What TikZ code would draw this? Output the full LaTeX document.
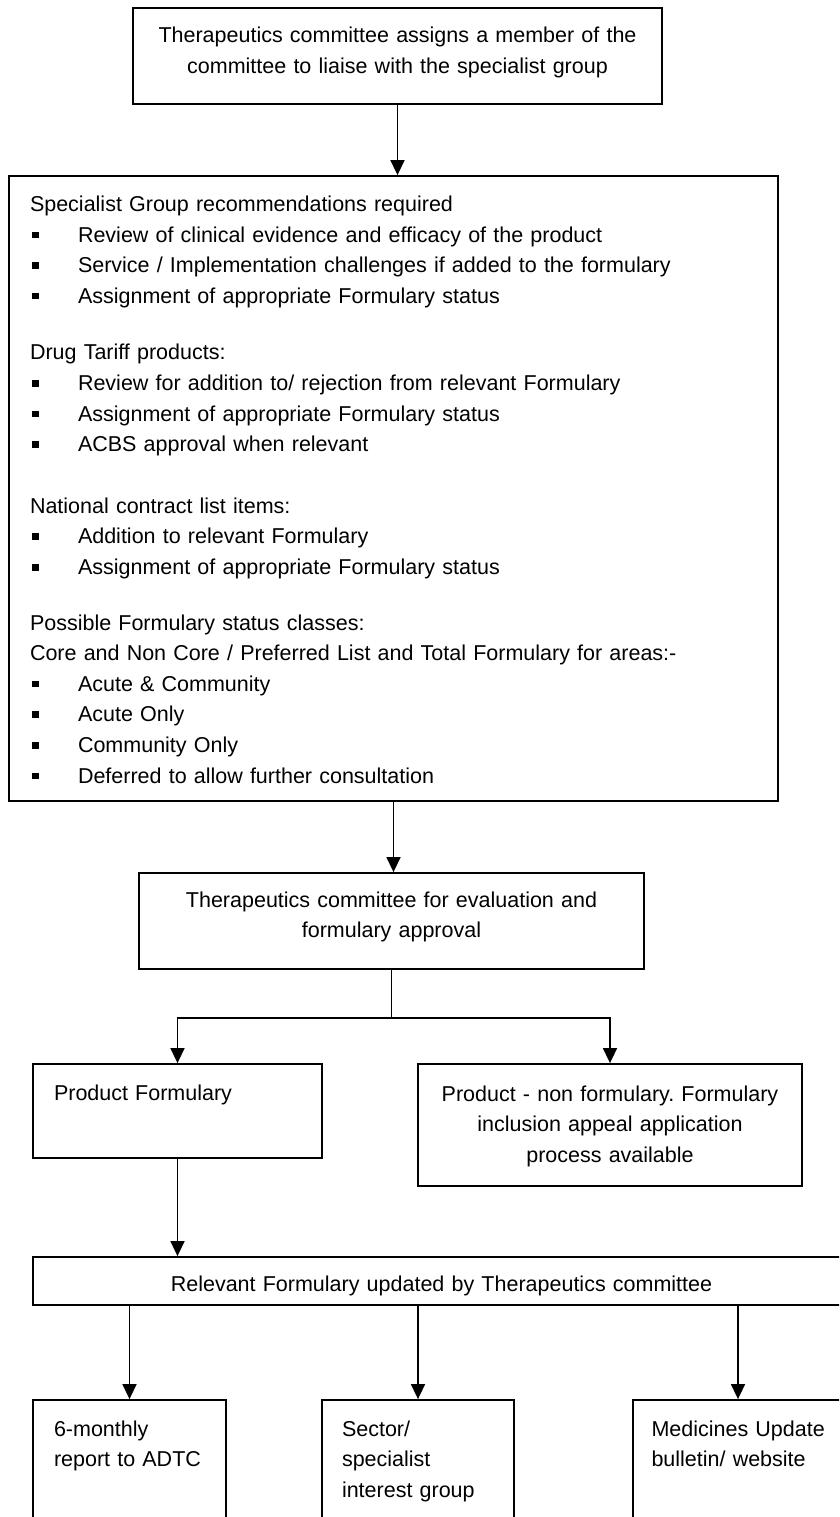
\documentclass[tikz,border=0pt]{standalone}
\usepackage{fontspec}
\setmainfont{Liberation Sans}
\usetikzlibrary{arrows.meta}
\newcommand\bul{\makebox[48pt][l]{\hspace{2pt}\rule[4pt]{6.5pt}{6.5pt}}}
\frenchspacing

\begin{document}
\begin{tikzpicture}[x=1pt,y=-1pt]
\tikzset{box/.style={draw,line width=1.8pt,inner xsep=20pt,inner ysep=0pt,anchor=base}}
\tikzset{link/.style={line width=1.5pt}}
\tikzset{arr/.style={link,-{Triangle[width=14pt,length=15pt]}}}

\fontsize{21.5}{30.6}\selectfont
\hyphenpenalty=10000
\hbadness=10000 \hfuzz=20pt

\useasboundingbox (0,0) rectangle (839,1517);
\clip (0,0) rectangle (839,1517);

\node[box,align=center,text width=489pt,text height=34.7pt,text depth=61.3pt] (assign) at (397.5,42.7)
  {Therapeutics committee assigns a member of the\\committee to liaise with the specialist group};

\node[box,align=left,inner xsep=21pt,text width=727pt,text height=35.5pt,text depth=589.5pt] (spec) at (393.5,211.5)
  {Specialist Group recommendations required\\
   \bul Review of clinical evidence and efficacy of the product\\
   \bul Service / Implementation challenges if added to the formulary\\
   \bul Assignment of appropriate Formulary status\\[26pt]
   Drug Tariff products:\\
   \bul Review for addition to/ rejection from relevant Formulary\\
   \bul Assignment of appropriate Formulary status\\
   \bul ACBS approval when relevant\\[31pt]
   National contract list items:\\
   \bul Addition to relevant Formulary\\
   \bul Assignment of appropriate Formulary status\\[25pt]
   Possible Formulary status classes:\\
   Core and Non Core / Preferred List and Total Formulary for areas:-\\
   \bul Acute \& Community\\
   \bul Acute Only\\
   \bul Community Only\\
   \bul Deferred to allow further consultation};

\node[box,align=center,text width=465pt,text height=34pt,text depth=62pt] (eval) at (391.5,907)
  {Therapeutics committee for evaluation and\\formulary approval};

\node[box,align=left,inner xsep=21pt,text width=247pt,text height=36pt,text depth=58pt] (prodf) at (177.5,1100)
  {Product Formulary};
\node[box,align=center,inner xsep=10pt,text width=364pt,text height=37pt,text depth=85pt] (nonf) at (610,1101)
  {Product - non formulary. Formulary\\inclusion appeal application\\process available};

\node[box,align=center,text width=777pt,text height=34pt,text depth=14pt] (relev) at (441.5,1291)
  {Relevant Formulary updated by Therapeutics committee};

\node[box,align=left,inner xsep=21pt,text width=151pt,text height=36pt,text depth=130pt] (report) at (129.5,1436)
  {6-monthly\\report to ADTC};
\node[box,align=left,text width=152pt,text height=36pt,text depth=130pt] (sector) at (418,1436)
  {Sector/\\specialist\\interest group};
\node[box,align=left,inner xsep=18.5pt,text width=173pt,text height=36pt,text depth=130pt] (bulletin) at (738,1436)
  {\mbox{Medicines Update}\\bulletin/ website};

\draw[arr] (assign.south) -- (assign.south |- spec.north);
\draw[arr] (spec.south) -- (spec.south |- eval.north);
\draw[link] (eval.south) -- ++(0,48) coordinate (fork);
\draw[arr] (fork) -| (prodf.north);
\draw[arr] (fork) -| (nonf.north);
\draw[arr] (prodf.south) -- (prodf.south |- relev.north);
\foreach \b in {report,sector,bulletin}
  \draw[arr] (relev.south -| \b.north) -- (\b.north);

\end{tikzpicture}
\end{document}
